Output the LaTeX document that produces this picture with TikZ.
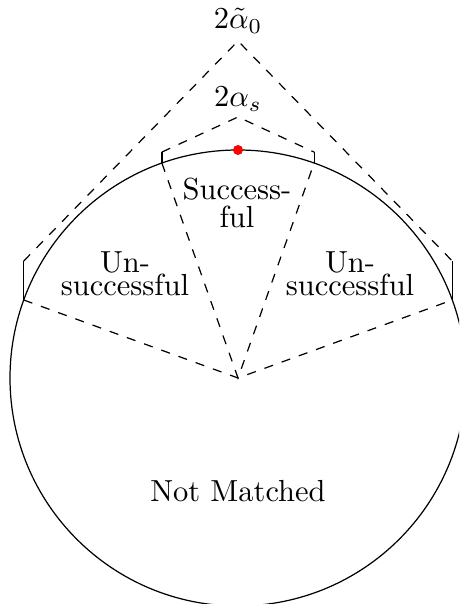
\documentclass[tikz,border=0pt]{standalone}
\usepackage{tikz}
\usetikzlibrary{calc}

\begin{document}
\begin{tikzpicture}[x=0.328pt,y=0.328pt]
			%%%%% START %%%%%
			\useasboundingbox (0,0) rectangle (459,604);
			\clip (0,0) rectangle (459,604);
			
			\coordinate (O) at (238,226);
			\draw (O) circle (228);
			\fill[red] (238,454) circle (5);
			
			% inner sector
			\coordinate (inl) at ($(O)+(109.5:228)$);
			\coordinate (inr) at ($(O)+(70.5:228)$);
			\coordinate (inlt) at ($(inl)+(0,11)$);
			\coordinate (inrt) at ($(inr)+(0,11)$);
			\coordinate (intop) at (238,487);
			\draw (inl) -- (inlt);
			\draw (inr) -- (inrt);
			\draw[dashed] (inlt) -- (intop) -- (inrt);
			\draw[dashed] (inl) -- (O) -- (inr);
			
			% outer sector
			\coordinate (outl) at ($(O)+(160:228)$);
			\coordinate (outr) at ($(O)+(20:228)$);
			\coordinate (outlt) at ($(outl)+(0,39)$);
			\coordinate (outrt) at ($(outr)+(0,39)$);
			\coordinate (outtop) at (238,563);
			\draw (outl) -- (outlt);
			\draw (outr) -- (outrt);
			\draw[dashed] (outlt) -- (outtop) -- (outrt);
			\draw[dashed] (outl) -- (O) -- (outr);
			
			\node (alphas) at (238,505) {$2\alpha_s$};
			\node (alpha0) at (238,583) {$2\tilde{\alpha}_0$};
			
			\node[align=center] (succ) at (237,401) {Success-\\[-3pt]ful};
			\node[align=center] (unsuccl) at (125,330.5) {Un-\\[-4.5pt]successful};
			\node[align=center] (unsuccr) at (350,330.5) {Un-\\[-4.5pt]successful};
			\node (notm) at (238,113) {Not Matched};
			%%%%% END %%%%%
\end{tikzpicture}
\end{document}
